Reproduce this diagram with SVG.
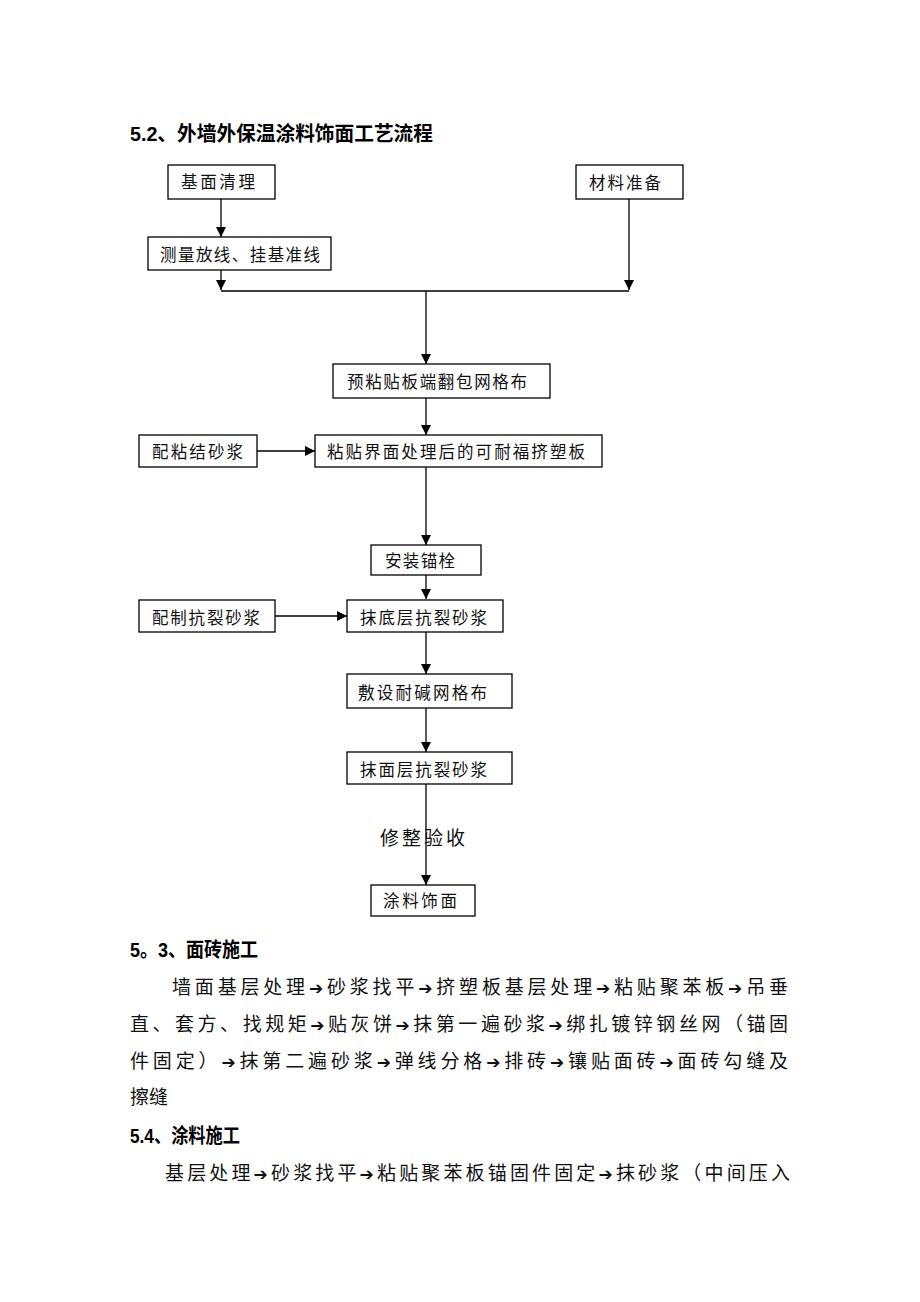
<svg xmlns="http://www.w3.org/2000/svg" width="920" height="1302" viewBox="0 0 920 1302">
<style>
.bg{fill:#fff}
.box{fill:#fff;stroke:#000;stroke-width:1.3}
.t{font-family:"Noto Sans CJK SC","Noto Sans",sans-serif;font-size:16.5px;fill:#111}
.h{font-family:"Liberation Sans","Noto Sans CJK SC",sans-serif;font-size:20px;font-weight:bold;fill:#000}
.b{font-family:"Noto Sans CJK SC","Noto Sans",sans-serif;font-size:19px;fill:#111}
.ar{font-family:"DejaVu Sans",sans-serif;font-size:17px}
.ln{fill:none;stroke:#000;stroke-width:1.3}
</style>
<defs>
<marker id="ah" markerUnits="userSpaceOnUse" markerWidth="10" markerHeight="12" refX="10" refY="5" orient="auto">
<path d="M0,0 L10,5 L0,10 Z" fill="#000"/>
</marker>
</defs>
<rect class="bg" x="0" y="0" width="920" height="1302"/>
<text class="h" x="130" y="141" textLength="303" lengthAdjust="spacingAndGlyphs">5.2、外墙外保温涂料饰面工艺流程</text>

<g id="connectors">
<line class="ln" x1="221" y1="199" x2="221" y2="237" marker-end="url(#ah)"/>
<line class="ln" x1="221" y1="270" x2="221" y2="290" marker-end="url(#ah)"/>
<line class="ln" x1="629" y1="199" x2="629" y2="290" marker-end="url(#ah)"/>
<line class="ln" x1="221" y1="291" x2="629" y2="291"/>
<line class="ln" x1="426" y1="291" x2="426" y2="364" marker-end="url(#ah)"/>
<line class="ln" x1="426" y1="398" x2="426" y2="435" marker-end="url(#ah)"/>
<line class="ln" x1="257" y1="451" x2="315" y2="451" marker-end="url(#ah)"/>
<line class="ln" x1="426" y1="467" x2="426" y2="545" marker-end="url(#ah)"/>
<line class="ln" x1="426" y1="575" x2="426" y2="599" marker-end="url(#ah)"/>
<line class="ln" x1="275" y1="616" x2="347" y2="616" marker-end="url(#ah)"/>
<line class="ln" x1="426" y1="632" x2="426" y2="674" marker-end="url(#ah)"/>
<line class="ln" x1="426" y1="708" x2="426" y2="752" marker-end="url(#ah)"/>
<line class="ln" x1="426" y1="784" x2="426" y2="885" marker-end="url(#ah)"/>
<text id="label-xzys" class="b" x="380" y="845" textLength="85" lengthAdjust="spacing">修整验收</text>
</g>

<g id="n-jmql"><rect class="box" x="168" y="165" width="107" height="34"/><text class="t" x="181" y="188" textLength="74" lengthAdjust="spacing">基面清理</text></g>
<g id="n-clzb"><rect class="box" x="576" y="165" width="107" height="34"/><text class="t" x="589" y="189" textLength="72" lengthAdjust="spacing">材料准备</text></g>
<g id="n-clfx"><rect class="box" x="148" y="237" width="183" height="33"/><text class="t" x="160" y="261" textLength="160" lengthAdjust="spacing">测量放线、挂基准线</text></g>
<g id="n-ynt"><rect class="box" x="333" y="364" width="217" height="34"/><text class="t" x="347" y="388" textLength="180" lengthAdjust="spacing">预粘贴板端翻包网格布</text></g>
<g id="n-ntjm"><rect class="box" x="315" y="435" width="287" height="32"/><text class="t" x="327" y="458" textLength="258" lengthAdjust="spacing">粘贴界面处理后的可耐福挤塑板</text></g>
<g id="n-pnj"><rect class="box" x="139" y="435" width="118" height="32"/><text class="t" x="152" y="458" textLength="91" lengthAdjust="spacing">配粘结砂浆</text></g>
<g id="n-azmd"><rect class="box" x="371" y="545" width="110" height="30"/><text class="t" x="385" y="567" textLength="70" lengthAdjust="spacing">安装锚栓</text></g>
<g id="n-pzkl"><rect class="box" x="139" y="600" width="136" height="32"/><text class="t" x="152" y="624" textLength="108" lengthAdjust="spacing">配制抗裂砂浆</text></g>
<g id="n-mdc"><rect class="box" x="347" y="600" width="156" height="32"/><text class="t" x="360" y="624" textLength="127" lengthAdjust="spacing">抹底层抗裂砂浆</text></g>
<g id="n-fsnj"><rect class="box" x="347" y="674" width="165" height="34"/><text class="t" x="358" y="699" textLength="129" lengthAdjust="spacing">敷设耐碱网格布</text></g>
<g id="n-mmc"><rect class="box" x="347" y="752" width="165" height="32"/><text class="t" x="360" y="776" textLength="127" lengthAdjust="spacing">抹面层抗裂砂浆</text></g>
<g id="n-tlsm"><rect class="box" x="371" y="885" width="104" height="31"/><text class="t" x="383" y="907" textLength="74" lengthAdjust="spacing">涂料饰面</text></g>

<text class="h" x="130" y="957" textLength="128" lengthAdjust="spacingAndGlyphs">5。3、面砖施工</text>
<text class="b" x="172" y="994" textLength="616" lengthAdjust="spacing">墙面基层处理<tspan class="ar">➔</tspan>砂浆找平<tspan class="ar">➔</tspan>挤塑板基层处理<tspan class="ar">➔</tspan>粘贴聚苯板<tspan class="ar">➔</tspan>吊垂</text>
<text class="b" x="130" y="1031" textLength="658" lengthAdjust="spacing">直、套方、找规矩<tspan class="ar">➔</tspan>贴灰饼<tspan class="ar">➔</tspan>抹第一遍砂浆<tspan class="ar">➔</tspan>绑扎镀锌钢丝网（锚固</text>
<text class="b" x="130" y="1068" textLength="658" lengthAdjust="spacing">件固定）<tspan class="ar">➔</tspan>抹第二遍砂浆<tspan class="ar">➔</tspan>弹线分格<tspan class="ar">➔</tspan>排砖<tspan class="ar">➔</tspan>镶贴面砖<tspan class="ar">➔</tspan>面砖勾缝及</text>
<text class="b" x="130" y="1104">擦缝</text>
<text class="h" x="130" y="1143" textLength="110" lengthAdjust="spacingAndGlyphs">5.4、涂料施工</text>
<text class="b" x="165" y="1180" textLength="625" lengthAdjust="spacing">基层处理<tspan class="ar">➔</tspan>砂浆找平<tspan class="ar">➔</tspan>粘贴聚苯板锚固件固定<tspan class="ar">➔</tspan>抹砂浆（中间压入</text>
</svg>
